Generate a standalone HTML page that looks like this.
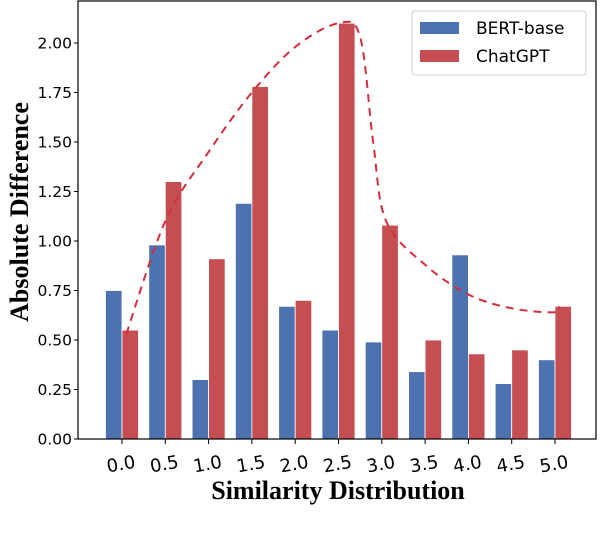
<!DOCTYPE html>
<html><head><meta charset="utf-8"><style>
body{margin:0;background:#fff}
svg text{font-family:"DejaVu Sans","Liberation Sans",sans-serif}
</style></head><body>
<svg id="chart" width="604" height="536" xmlns="http://www.w3.org/2000/svg">
<g id="bars"></g>
<path id="curve" fill="none" stroke="#d62d3e" stroke-width="2" stroke-dasharray="8,6"/>
<rect x="78" y="1" width="518" height="438" fill="none" stroke="#000" stroke-width="1.2"/>
<g id="yticks"></g>
<g id="xticks"></g>
<text transform="translate(28,212) rotate(-90)" text-anchor="middle" style="font-family:'Liberation Serif',serif;font-weight:bold;font-size:26px">Absolute Difference</text>
<text x="338" y="499" text-anchor="middle" style="font-family:'Liberation Serif',serif;font-weight:bold;font-size:26px">Similarity Distribution</text>
<g>
<rect x="412" y="11" width="174" height="64" rx="3" fill="#fff" stroke="#ccc"/>
<rect x="420" y="22" width="39" height="12" fill="#4c72b0"/>
<text x="476" y="34" font-size="17">BERT-base</text>
<rect x="420" y="50" width="39" height="12" fill="#c44e52"/>
<text x="476" y="62" font-size="17">ChatGPT</text>
</g>
</svg>
<script>
const categories=["0.0","0.5","1.0","1.5","2.0","2.5","3.0","3.5","4.0","4.5","5.0"];
const bertValues=[0.75,0.98,0.30,1.19,0.67,0.55,0.49,0.34,0.93,0.28,0.40];
const chatgptValues=[0.55,1.30,0.91,1.78,0.70,2.10,1.08,0.50,0.43,0.45,0.67];
const yTicks=[0,0.25,0.5,0.75,1.0,1.25,1.5,1.75,2.0];
const yTickLabels=["0.00","0.25","0.50","0.75","1.00","1.25","1.50","1.75","2.00"];
const curveX=[0.1,1,2,3,4,5,5.5,5.8,6.1,7,8,9,10,10.1];
const curveY=[0.53,1.1,1.45,1.75,1.98,2.1,2.03,1.5,1.1,0.88,0.73,0.66,0.64,0.67];
const NS="http://www.w3.org/2000/svg";
const xS=i=>122+i*43.3;
const yS=v=>439-v*198;
const bw=16.5;
function mk(t,a,p){const e=document.createElementNS(NS,t);for(const k in a)e.setAttribute(k,a[k]);p.appendChild(e);return e;}
const bars=document.getElementById('bars');
categories.forEach((c,i)=>{
 const b=mk('rect',{x:xS(i)-bw,y:yS(bertValues[i]),width:bw,height:yS(0)-yS(bertValues[i]),fill:'#4c72b0',stroke:'#fff','stroke-width':0.8},bars);
 
 
 const r=mk('rect',{x:xS(i),y:yS(chatgptValues[i]),width:bw,height:yS(0)-yS(chatgptValues[i]),fill:'#c44e52',stroke:'#fff','stroke-width':0.8},bars);
 
 
});
const pts=curveX.map((x,i)=>[xS(x),yS(curveY[i])]);
let d='M'+pts[0][0]+','+pts[0][1];
for(let i=0;i<pts.length-1;i++){
 const p0=pts[Math.max(0,i-1)],p1=pts[i],p2=pts[i+1],p3=pts[Math.min(pts.length-1,i+2)];
 const c1=[p1[0]+(p2[0]-p0[0])/6,p1[1]+(p2[1]-p0[1])/6];
 const c2=[p2[0]-(p3[0]-p1[0])/6,p2[1]-(p3[1]-p1[1])/6];
 d+=' C'+c1+' '+c2+' '+p2;
}
document.getElementById('curve').setAttribute('d',d);
const yt=document.getElementById('yticks');
yTicks.forEach((v,i)=>{
 mk('line',{x1:74,x2:78,y1:yS(v),y2:yS(v),stroke:'#000'},yt);
 const t=mk('text',{x:72,y:yS(v)+5.5,'text-anchor':'end','font-size':15.5},yt);
 t.textContent=yTickLabels[i];
 
 
});
const xt=document.getElementById('xticks');
categories.forEach((c,i)=>{
 mk('line',{x1:xS(i),x2:xS(i),y1:439,y2:444,stroke:'#000'},xt);
 const t=mk('text',{x:0,y:0,'text-anchor':'middle','font-size':18,transform:`translate(${xS(i)},470) rotate(-10)`},xt);
 t.textContent=c;
 
 
});
</script>
</body></html>
